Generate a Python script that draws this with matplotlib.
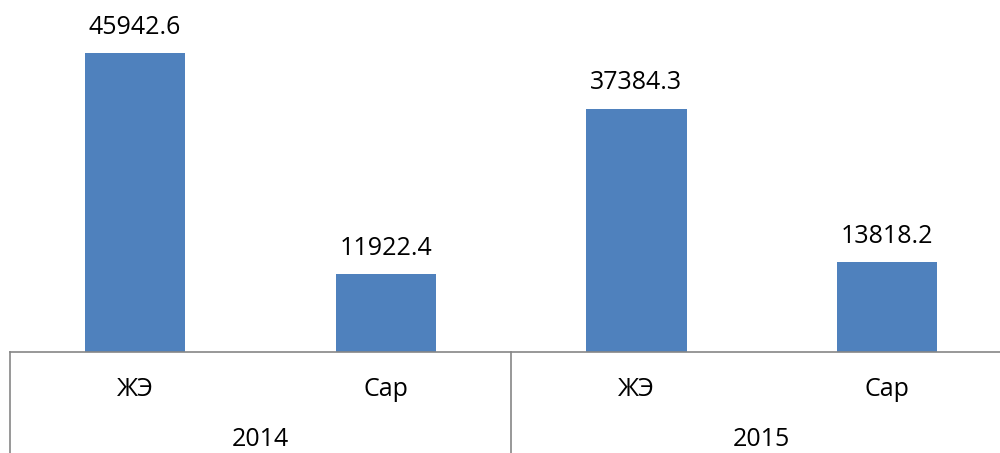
import matplotlib
matplotlib.use("Agg")
import matplotlib.pyplot as plt
from matplotlib.transforms import blended_transform_factory

plt.rcParams['font.family'] = ['Open Sans', 'DejaVu Sans']

years = ["2014", "2015"]
categories = ["ЖЭ", "Сар", "ЖЭ", "Сар"]
values = [45942.6, 11922.4, 37384.3, 13818.2]
value_labels = ["45942.6", "11922.4", "37384.3", "13818.2"]

W, H = 1000, 453
fig = plt.figure(figsize=(W / 100, H / 100), dpi=100)
base_px = 352
left_px = 9.7
width_px = 1002.7
ax = fig.add_axes([left_px / W, (H - base_px) / H, width_px / W, base_px / H])

x = list(range(len(values)))
ax.bar(x, values, width=0.4, color="#4F81BD", zorder=2)
ax.set_xlim(-0.5, len(values) - 0.5)
ax.set_ylim(0, base_px / 0.006508)

for s in ["top", "right", "left"]:
    ax.spines[s].set_visible(False)
ax.spines["bottom"].set_color("#868686")
ax.spines["bottom"].set_linewidth(1.2)
ax.set_xticks([])
ax.set_yticks([])

fs = 18
for xi, v, lab in zip(x, values, value_labels):
    ax.annotate(lab, (xi, v), xytext=(0, 26 * 0.72), textcoords="offset points",
                ha="center", va="center", fontsize=fs, color="#000000")

trans = blended_transform_factory(ax.transData, ax.transAxes)
low = -(H - base_px) / base_px
for b in [-0.5, 1.5, 3.5]:
    ax.plot([b, b], [0, low], transform=trans, color="#868686", lw=1.2, clip_on=False)

for xi, c in zip(x, categories):
    ax.text(xi, -38 / base_px, c, transform=trans, ha="center", va="center", fontsize=fs)
for i, y in enumerate(years):
    ax.text(0.5 + 2 * i, -88 / base_px, y, transform=trans, ha="center", va="center", fontsize=fs)

fig.savefig("out.png", dpi=100)
